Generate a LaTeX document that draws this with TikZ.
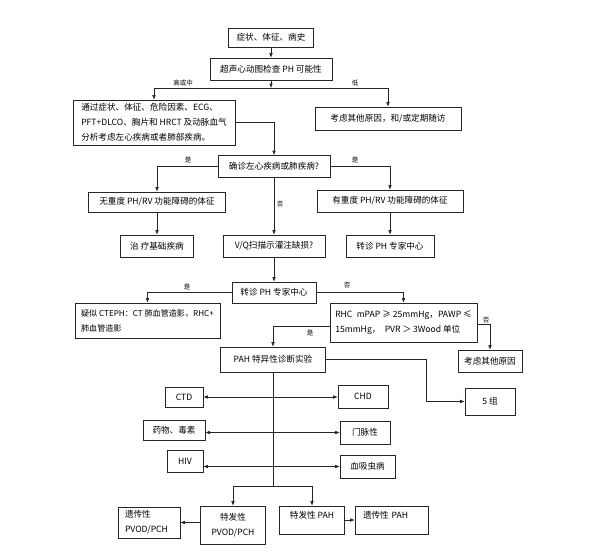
\documentclass[tikz,border=0pt]{standalone}
\usepackage{fontspec}
\setmainfont{Noto Sans CJK SC}
\usetikzlibrary{arrows.meta,calc}
\begin{document}
\begin{tikzpicture}[x=1pt,y=-1pt,
  box/.style={draw=black!85, line width=0.6pt, inner sep=2pt, align=center,
    font=\fontsize{8.6}{15}\selectfont},
  ln/.style={draw=black!85, line width=0.6pt},
  arr/.style={ln, -{Latex[length=4.5pt,width=3.6pt]}},
  darr/.style={ln, {Latex[length=4.5pt,width=3.6pt]}-{Latex[length=4.5pt,width=3.6pt]}},
  lab/.style={font=\fontsize{6.5}{8}\selectfont, inner sep=1pt}]
\useasboundingbox[fill=white] (0,0) rectangle (589,552);

\node[box, minimum width=85pt, minimum height=19pt] (b1) at (271,37.5) {症状、体征、病史};
\node[box, minimum width=122pt, minimum height=22pt] (b2) at (271,69) {超声心动图检查 PH 可能性};
\node[box, minimum width=162pt, minimum height=45pt, align=left] (b3) at (154,122.5)
  {通过症状、体征、危险因素、ECG、\\PFT+DLCO、胸片和 HRCT 及动脉血气\\分析考虑左心疾病或者肺部疾病。};
\node[box, minimum width=146pt, minimum height=23pt] (b4) at (388,118.5) {考虑其他原因，和/或定期随访};
\node[box, minimum width=112pt, minimum height=22pt] (b5) at (274,166.5) {确诊左心疾病或肺疾病?};
\node[box, minimum width=137pt, minimum height=20pt] (b6) at (157,202) {无重度 PH/RV 功能障碍的体征};
\node[box, minimum width=146pt, minimum height=22pt] (b7) at (390,201) {有重度 PH/RV 功能障碍的体征};
\node[box, minimum width=73pt, minimum height=22pt] (b8) at (157,246) {治 疗基础疾病};
\node[box, minimum width=102pt, minimum height=22pt] (b9) at (274,246) {V/Q扫描示灌注缺损?};
\node[box, minimum width=88pt, minimum height=22pt] (b10) at (390,246) {转诊 PH 专家中心};
\node[box, minimum width=84pt, minimum height=21pt] (b11) at (274,292.5) {转诊 PH 专家中心};
\node[box, minimum width=145pt, minimum height=35pt, align=left,
  font=\fontsize{8.1}{15}\selectfont] (b12) at (147.5,320.5)
  {疑似 CTEPH：CT 肺血管造影，RHC+\\肺血管造影};
\node[box, minimum width=147pt, minimum height=39pt, align=left] (b13) at (403.5,322.5)
  {RHC\enspace mPAP ≥ 25mmHg，PAWP ≤\\15mmHg，\enspace PVR ＞ 3Wood 单位};
\node[box, minimum width=64pt, minimum height=22pt] (b14) at (490,361) {考虑其他原因};
\node[box, minimum width=105pt, minimum height=25pt] (b15) at (273,359.5) {PAH 特异性诊断实验};
\node[box, minimum width=50pt, minimum height=27pt] (b16) at (490,401.5) {5 组};
\node[box, minimum width=38pt, minimum height=20pt] (b17) at (184,397) {CTD};
\node[box, minimum width=50pt, minimum height=23pt] (b18) at (363,396.5) {CHD};
\node[box, minimum width=62pt, minimum height=20pt] (b19) at (174,430) {药物、毒素};
\node[box, minimum width=50pt, minimum height=23pt] (b20) at (365,432.5) {门脉性};
\node[box, minimum width=36pt, minimum height=22pt] (b21) at (185,461) {HIV};
\node[box, minimum width=55pt, minimum height=23pt] (b22) at (367.5,466.5) {血吸虫病};
\node[box, minimum width=62pt, minimum height=31pt, align=left, text width=48pt, inner xsep=7pt] (b23) at (149,522.5)
  {遗传性\\PVOD/PCH};
\node[box, minimum width=65pt, minimum height=38pt] (b24) at (233,525) {特发性\\PVOD/PCH};
\node[box, minimum width=65pt, text height=9pt, text depth=13pt, inner ysep=3pt] (b25) at (312,520) {特发性 PAH};
\node[box, minimum width=73pt, text height=9pt, text depth=13pt, inner ysep=3pt, inner xsep=8pt,
  text width=57pt, align=left] (b26) at (391.5,520) {遗传性 PAH};

% labels
\node[lab] (l1) at (183,83) {高或中};
\node[lab] (l2) at (355,83) {低};
\node[lab] (l3) at (188,160) {是};
\node[lab] (l4) at (355,160) {是};
\node[lab] (l5) at (280,204) {否};
\node[lab] (l6) at (187,287) {是};
\node[lab] (l7) at (347,285) {否};
\node[lab] (l8) at (310,333) {是};
\node[lab] (l9) at (486,320) {否};

% coordinates
\coordinate (j1) at (271,88);
\coordinate (j2) at (273,486);
\coordinate (kx) at (426,0);

% connectors
\draw[arr] (b1.south) -- (b2.north);
\draw[arr] (b2.south) -- (j1);
\draw[ln] (b3.north |- j1) -- (b4.north |- j1);
\draw[arr] (b3.north |- j1) -- (b3.north);
\draw[arr] (b4.north |- j1) -- (b4.north);
\draw[arr] (b3.east) -| (b5.north);
\draw[arr] (b5.west) -| (b6.north);
\draw[arr] (b5.east) -| (b7.north);
\draw[arr] (b5.south) -- (b9.north);
\draw[arr] (b6.south) -- (b8.north);
\draw[arr] (b7.south) -- (b10.north);
\draw[arr] (b9.south) -- (b11.north);
\draw[arr] (b11.west) -| (b12.north);
\draw[arr] (b11.east) -| (b13.north);
\draw[arr] ($(b13.west)+(0,4)$) -| (b15.north);
\draw[arr] ($(b13.east)+(0,2)$) -| (b14.north);
\draw[arr] (b15.east) -- (b15.east -| kx) |- (b16.west);
\draw[ln] (b15.south) -- (j2);
\draw[ln] (b24.north |- j2) -- (b25.north |- j2);
\draw[arr] (b24.north |- j2) -- (b24.north);
\draw[arr] (b25.north |- j2) -- (b25.north);
\draw[darr] (b17.east) -- (b18.west |- b17.east);
\draw[darr] (b19.east |- b20.west) -- (b20.west);
\draw[darr] (b21.east |- b22.west) -- (b22.west);
\draw[arr] (b24.west |- b23.east) -- (b23.east);
\draw[arr] (b25.east) -- (b26.west);
\end{tikzpicture}
\end{document}
